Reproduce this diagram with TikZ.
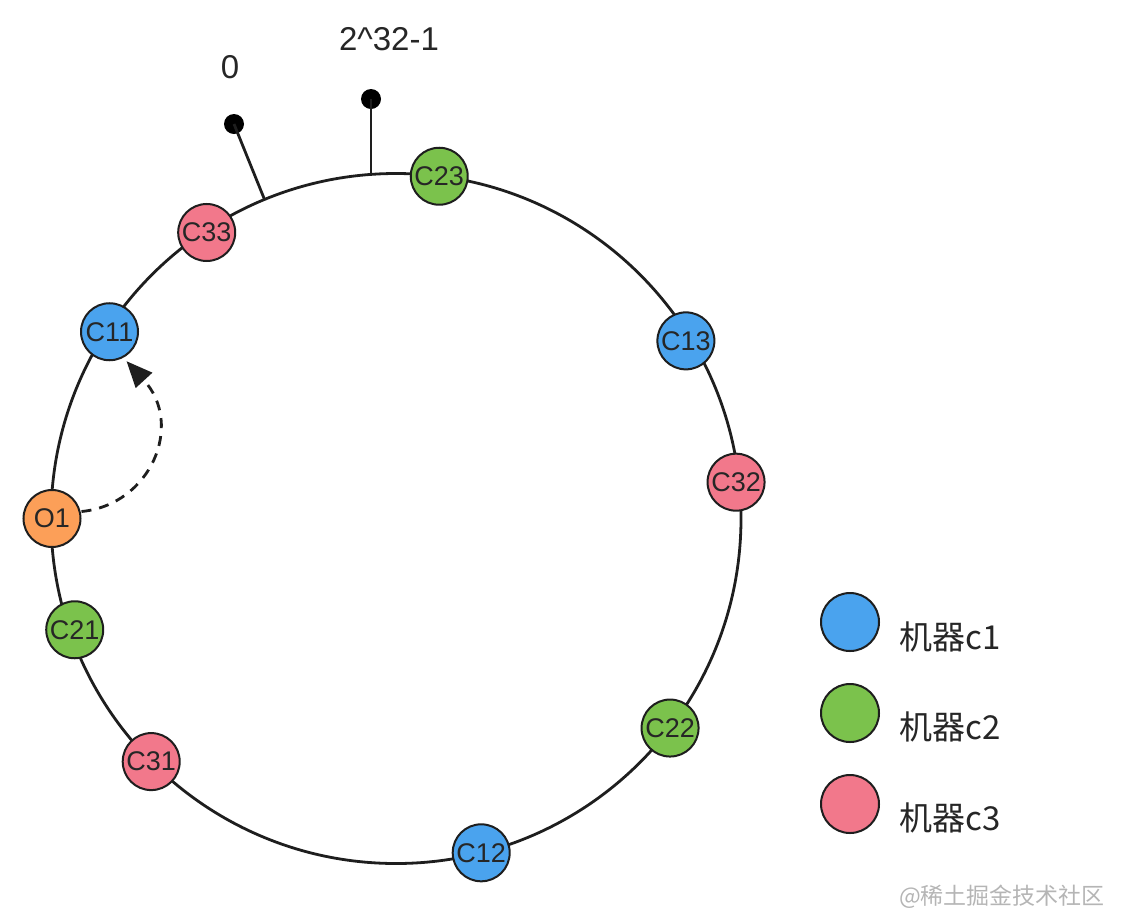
\documentclass[tikz,border=0pt]{standalone}
\usepackage{fontspec}
\setmainfont{Liberation Sans}
\newfontfamily\cjkfont{Noto Sans CJK SC}
\usetikzlibrary{calc,arrows.meta}
\definecolor{cblue}{HTML}{4AA3EE}
\definecolor{cgreen}{HTML}{7BC24C}
\definecolor{cpink}{HTML}{F2788B}
\definecolor{corange}{HTML}{FC9F58}
\definecolor{edge}{HTML}{1E1E1E}
\definecolor{wmark}{HTML}{B5B5B5}
\begin{document}
\begin{tikzpicture}[x=1pt,y=-1pt,
  vnode/.style={circle,draw=edge,line width=2pt,minimum size=57pt,inner sep=0pt,
    font=\fontsize{27}{27}\selectfont,text=black!85},
  legdot/.style={circle,draw=edge,line width=2pt,minimum size=58pt,inner sep=0pt},
  ring/.style={draw=edge,line width=2.8pt},
  tick/.style={draw=edge,line width=2.8pt},
  pin/.style={circle,fill=black,minimum size=20pt,inner sep=0pt},
  legtxt/.style={anchor=west,font=\cjkfont\fontsize{33}{33}\selectfont,text=black!85},
  numtxt/.style={font=\fontsize{33}{33}\selectfont,text=black!85}]
\useasboundingbox (0,0) rectangle (1124,922);
\coordinate (c) at (396,518.5);
\draw[ring] (c) circle[radius=345pt];
% ticks
\coordinate (t0) at ($(c)+(112.4:345pt)$);
\coordinate (tmax) at (371,173.5);
\node[pin] (p0) at (234,124) {};
\node[pin] (pmax) at (371,99) {};
\draw[tick] (t0) -- (p0.center);
\draw[tick] (tmax) -- (pmax.center);
\node[numtxt] (l0) at (230,67) {0};
\node[numtxt] (lmax) at (389,39) {2\^{}32-1};
% virtual nodes
\node[vnode,fill=cgreen] (C23) at ($(c)+(82.8:345pt)$) {C23};
\node[vnode,fill=cpink] (C33) at ($(c)+(123.5:343pt)$) {C33};
\node[vnode,fill=cblue] (C11) at ($(c)+(146.9:342pt)$) {C11};
\node[vnode,fill=corange] (O1) at ($(c)+(180:344pt)$) {O1};
\node[vnode,fill=cgreen] (C21) at ($(c)+(199.1:340pt)$) {C21};
\node[vnode,fill=cpink] (C31) at ($(c)+(224.8:345pt)$) {C31};
\node[vnode,fill=cblue] (C12) at ($(c)+(284.3:345pt)$) {C12};
\node[vnode,fill=cgreen] (C22) at ($(c)+(322.6:345pt)$) {C22};
\node[vnode,fill=cpink] (C32) at ($(c)+(6.1:342pt)$) {C32};
\node[vnode,fill=cblue] (C13) at ($(c)+(31.5:340pt)$) {C13};
% dashed arrow
\draw[draw=edge,line width=2.8pt,dash pattern=on 10pt off 8pt,
  -{Triangle[length=26pt,width=22pt]}]
  (O1.east) ++(0,-7) .. controls (150,505) and (185,425) .. ($(C11.center)+(-60:34pt)$);
% legend
\node[legdot,fill=cblue] (L1) at (850,622) {};
\node[legdot,fill=cgreen] (L2) at (850,713) {};
\node[legdot,fill=cpink] (L3) at (850,804) {};
\node[legtxt] (T1) at (896,637) {机器c1};
\node[legtxt] (T2) at (896,727) {机器c2};
\node[legtxt] (T3) at (896,818) {机器c3};
% watermark
\node[font=\cjkfont\fontsize{23}{23}\selectfont,text=wmark] (wm) at (1002,897) {@稀土掘金技术社区};
\end{tikzpicture}
\end{document}
